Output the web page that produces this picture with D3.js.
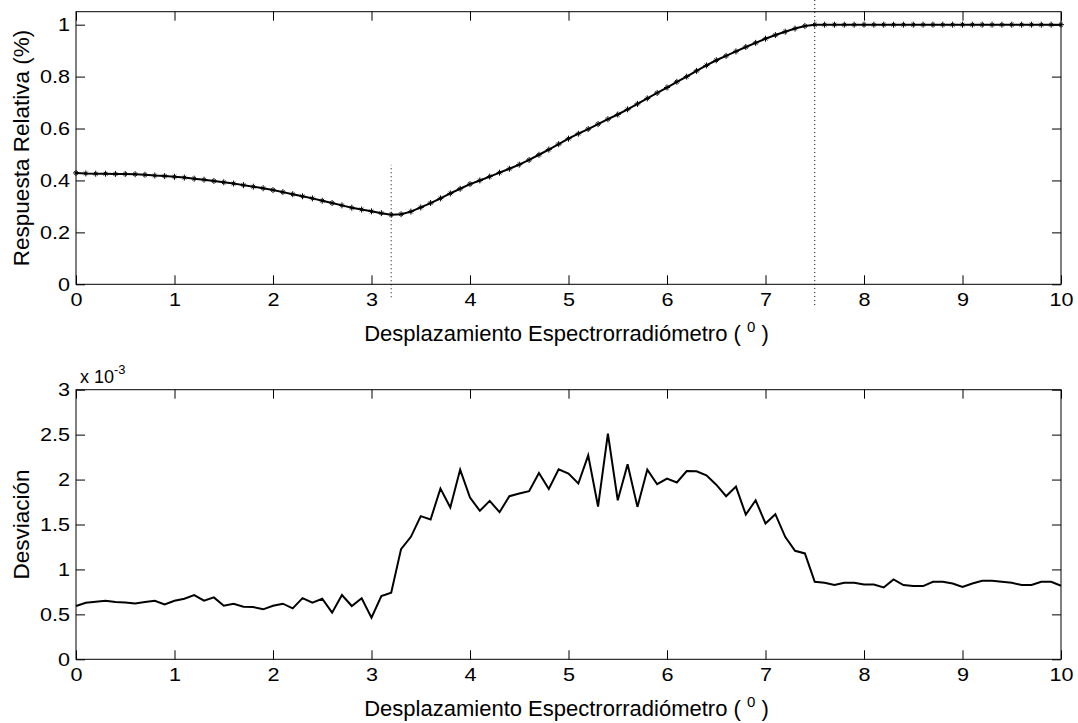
<!DOCTYPE html>
<html>
<head>
<meta charset="utf-8">
<script src="https://cdn.jsdelivr.net/npm/d3@7"></script>
<style>
	body { margin: 0; background: #fff; }
	svg { display: block; }
	text { font-family: "Liberation Sans", Arial, Helvetica, sans-serif; fill: #000; }
	.axis path { display: none; }
	.axis line { stroke: #000; stroke-width: 1; }
</style>
</head>
<body>
<div id="content"></div>
<script>
// desplazamiento (grados), same for both panels
var desplazamiento = [
	0.0,0.1,0.2,0.3,0.4,0.5,0.6,0.7,0.8,0.9,
	1.0,1.1,1.2,1.3,1.4,1.5,1.6,1.7,1.8,1.9,
	2.0,2.1,2.2,2.3,2.4,2.5,2.6,2.7,2.8,2.9,
	3.0,3.1,3.2,3.3,3.4,3.5,3.6,3.7,3.8,3.9,
	4.0,4.1,4.2,4.3,4.4,4.5,4.6,4.7,4.8,4.9,
	5.0,5.1,5.2,5.3,5.4,5.5,5.6,5.7,5.8,5.9,
	6.0,6.1,6.2,6.3,6.4,6.5,6.6,6.7,6.8,6.9,
	7.0,7.1,7.2,7.3,7.4,7.5,7.6,7.7,7.8,7.9,
	8.0,8.1,8.2,8.3,8.4,8.5,8.6,8.7,8.8,8.9,
	9.0,9.1,9.2,9.3,9.4,9.5,9.6,9.7,9.8,9.9,
	10.0
];

var respuesta = [
	0.429,0.427,0.426,0.426,0.425,0.425,0.424,0.422,0.419,0.417,
	0.414,0.411,0.407,0.403,0.398,0.393,0.388,0.382,0.376,0.370,
	0.363,0.355,0.347,0.339,0.331,0.322,0.313,0.304,0.295,0.288,
	0.281,0.274,0.268,0.270,0.280,0.296,0.313,0.331,0.350,0.368,
	0.386,0.400,0.415,0.430,0.445,0.461,0.479,0.499,0.519,0.540,
	0.561,0.580,0.598,0.617,0.636,0.654,0.674,0.695,0.716,0.737,
	0.758,0.780,0.800,0.822,0.843,0.863,0.880,0.897,0.914,0.930,
	0.946,0.960,0.973,0.985,0.995,1.000,1.000,1.000,1.000,1.000,
	1.000,1.000,1.000,1.000,1.000,1.000,1.000,1.000,1.000,1.000,
	1.000,1.000,1.000,1.000,1.000,1.000,1.000,1.000,1.000,1.000,
	1.000
];

// desviacion in units of 10^-3
var desviacion = [
	0.593,0.630,0.640,0.652,0.637,0.633,0.622,0.637,0.652,0.611,
	0.652,0.674,0.715,0.652,0.689,0.596,0.619,0.585,0.581,0.556,
	0.596,0.619,0.567,0.681,0.630,0.674,0.519,0.715,0.593,0.680,
	0.463,0.704,0.741,1.226,1.363,1.593,1.556,1.900,1.689,2.111,
	1.800,1.652,1.763,1.637,1.815,1.844,1.870,2.074,1.896,2.115,
	2.067,1.956,2.270,1.700,2.511,1.770,2.170,1.696,2.111,1.948,
	2.011,1.968,2.095,2.093,2.048,1.943,1.815,1.922,1.610,1.770,
	1.511,1.615,1.363,1.207,1.178,0.863,0.852,0.826,0.852,0.852,
	0.833,0.833,0.800,0.889,0.826,0.815,0.815,0.863,0.863,0.844,
	0.804,0.844,0.874,0.874,0.863,0.852,0.826,0.826,0.863,0.863,
	0.819
];

// dotted markers in the top panel: [x, yFrom, yTo]
var guias = [
	[3.2, -0.05, 0.46],
	[7.5, -0.08, 1.10]
];

var xTicks = [0,1,2,3,4,5,6,7,8,9,10];
var yTicksTop = [0,0.2,0.4,0.6,0.8,1];
var yTicksBottom = [0,0.5,1,1.5,2,2.5,3];

var xLabel = "Desplazamiento Espectrorradiómetro ( ";
var W = 1078, H = 723;
var left = 76, right = 1061;
var stretch = 1.2; // tick font looks wider than tall

var svg = d3.select("#content").append("svg")
	.attr("width", W).attr("height", H);

var x = d3.scaleLinear().domain([0, 10]).range([left, right]);

function panel(top, bottom, yDomain, yTicks, yFmt) {
	var y = d3.scaleLinear().domain(yDomain).range([bottom, top]);
	var g = svg.append("g");

	g.append("rect")
		.attr("x", left).attr("y", top)
		.attr("width", right - left).attr("height", bottom - top)
		.style("fill", "none").style("stroke", "#000").style("stroke-width", 1);

	var xb = g.append("g").attr("class", "axis")
		.attr("transform", "translate(0," + bottom + ")")
		.call(d3.axisBottom(x).tickValues(xTicks).tickSizeInner(-9).tickSizeOuter(0).tickPadding(9).tickFormat(d3.format("d")));
	xb.selectAll("text").style("font-size", "18px")
		.attr("transform", "scale(" + stretch + ",1)");

	g.append("g").attr("class", "axis")
		.attr("transform", "translate(0," + top + ")")
		.call(d3.axisTop(x).tickValues(xTicks).tickSizeInner(-9).tickSizeOuter(0).tickFormat(""));

	var yl = g.append("g").attr("class", "axis")
		.attr("transform", "translate(" + left + ",0)")
		.call(d3.axisLeft(y).tickValues(yTicks).tickSizeInner(-9).tickSizeOuter(0).tickPadding(6).tickFormat(yFmt));
	yl.selectAll("text").style("font-size", "18px")
		.attr("x", -6 / stretch)
		.attr("transform", "scale(" + stretch + ",1)");

	g.append("g").attr("class", "axis")
		.attr("transform", "translate(" + right + ",0)")
		.call(d3.axisRight(y).tickValues(yTicks).tickSizeInner(-9).tickSizeOuter(0).tickFormat(""));

	// x label with superscript 0
	var t = g.append("text")
		.attr("x", (left + right) / 2 - 2).attr("y", bottom + 57)
		.attr("text-anchor", "middle")
		.style("font-size", "22px");
	t.append("tspan").text(xLabel);
	t.append("tspan").attr("dy", -9).style("font-size", "15px").text("0");
	t.append("tspan").attr("dy", 9).text(" )");

	return y;
}

// top panel
var y1 = panel(11.7, 284.3, [0, 1.05], yTicksTop, d3.format("~g"));

svg.append("text")
	.attr("transform", "translate(29," + ((11.7 + 284.3) / 2) + ") rotate(-90)")
	.attr("text-anchor", "middle")
	.style("font-size", "22.5px")
	.text("Respuesta Relativa (%)");

guias.forEach(function (d) {
	svg.append("line")
		.attr("x1", x(d[0])).attr("x2", x(d[0]))
		.attr("y1", y1(d[1])).attr("y2", y1(d[2]))
		.style("stroke", "#000").style("stroke-width", 1)
		.style("stroke-dasharray", "1,3");
});

var lineTop = d3.line()
	.x(function (d, i) { return x(desplazamiento[i]); })
	.y(function (d) { return y1(d); });

svg.append("path").datum(respuesta)
	.attr("d", lineTop)
	.style("fill", "none").style("stroke", "#000").style("stroke-width", 2);

// asterisk markers
var star = svg.append("g");
respuesta.forEach(function (d, i) {
	var cx = x(desplazamiento[i]), cy = y1(d), r = 3;
	star.append("path")
		.attr("d", "M" + (cx - r) + "," + cy + "H" + (cx + r) +
			"M" + cx + "," + (cy - r) + "V" + (cy + r) +
			"M" + (cx - r * 0.6) + "," + (cy - r * 0.6) + "L" + (cx + r * 0.6) + "," + (cy + r * 0.6) +
			"M" + (cx - r * 0.6) + "," + (cy + r * 0.6) + "L" + (cx + r * 0.6) + "," + (cy - r * 0.6))
		.style("stroke", "#000").style("stroke-width", 1);
});

// bottom panel
var y2 = panel(389.7, 659.3, [0, 3], yTicksBottom, d3.format("~g"));

svg.append("text")
	.attr("transform", "translate(29," + ((389.7 + 659.3) / 2) + ") rotate(-90)")
	.attr("text-anchor", "middle")
	.style("font-size", "22.5px")
	.text("Desviación");

var exp = svg.append("text")
	.attr("x", 80).attr("y", 383)
	.style("font-size", "18px");
exp.append("tspan").text("x 10");
exp.append("tspan").attr("dy", -9).style("font-size", "13px").text("-3");

var lineBottom = d3.line()
	.x(function (d, i) { return x(desplazamiento[i]); })
	.y(function (d) { return y2(d); });

svg.append("path").datum(desviacion)
	.attr("d", lineBottom)
	.style("fill", "none").style("stroke", "#000").style("stroke-width", 2)
	.style("stroke-linejoin", "miter");
</script>
</body>
</html>
